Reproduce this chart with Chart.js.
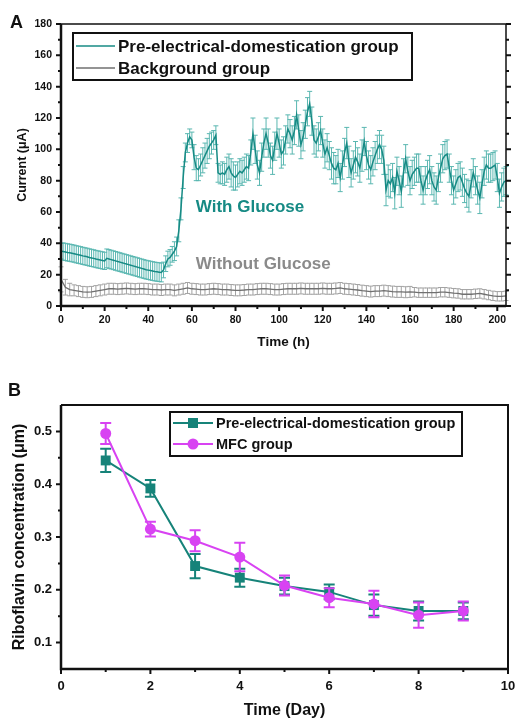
<!DOCTYPE html>
<html>
<head>
<meta charset="utf-8">
<script src="https://cdn.jsdelivr.net/npm/chart.js@4.4.0/dist/chart.umd.min.js"></script>
<style>
  body { margin: 0; background: #fff; width: 515px; height: 720px; overflow: hidden; position: relative; }
  .wrap { position: absolute; left: 0; width: 515px; height: 360px; }
  .tag { position: absolute; font: bold 18px 'Liberation Sans', Arial, sans-serif; color: #111; }
</style>
</head>
<body>
<div class="wrap" style="top:0"><canvas id="chartA" width="515" height="360"></canvas></div>
<div class="wrap" style="top:360px"><canvas id="chartB" width="515" height="360"></canvas></div>
<div class="tag" style="left:10px;top:12px">A</div>
<div class="tag" style="left:8px;top:380px">B</div>
<script>
// ---- Panel A: current over time ----
const tealHours = [
  0,1,2,3,4,5,6,7,8,9,10,11,12,13,14,15,16,17,18,19,20,
  21,22,23,24,25,26,27,28,29,30,31,32,33,34,35,36,37,38,39,40,
  41,42,43,44,45,46,47,48,49,50,51,52,53,54,55,56,57,58,59,60,
  61,62,63,64,65,66,67,68,69,70,71,72,73,74,75,76,77,78,79,80,
  81,82,83,84,85,86,87,88,89,90,91,92,93,94,95,96,97,98,99,100,
  101,102,103,104,105,106,107,108,109,110,111,112,113,114,115,116,117,118,119,120,
  121,122,123,124,125,126,127,128,129,130,131,132,133,134,135,136,137,138,139,140,
  141,142,143,144,145,146,147,148,149,150,151,152,153,154,155,156,157,158,159,160,
  161,162,163,164,165,166,167,168,169,170,171,172,173,174,175,176,177,178,179,180,
  181,182,183,184,185,186,187,188,189,190,191,192,193,194,195,196,197,198,199,200,
  201,202,203,204
];
const tealCurrent = [
  35,34.8,34.5,34.2,34,33.7,33.4,33,32.7,32.4,32,31.7,31.4,31,30.7,30.4,30,29.7,29.4,29.1,28.8,
  30.4,30,29.6,29.2,28.8,28.4,28,27.6,27.2,26.8,26.4,26,25.6,25.2,24.8,24.4,24,23.6,23.2,22.9,
  22.6,22.3,22,21.8,21.6,21.4,23,27,30,31,33,35,38,48,62,82,98,104,108,106,
  95,88,87,90,93,96,99,102,104,106,109,85,84,85,84,87,89,85,83,82,
  84,86,85,87,89,88,98,110,100,90,85,95,104,110,104,96,93,102,110,104,
  97,99,106,113,110,106,112,122,112,103,108,116,124,129,118,106,104,108,112,104,
  97,101,96,91,88,87,91,82,90,98,104,92,85,90,95,92,88,96,105,96,
  90,87,92,96,100,103,100,93,74,80,78,82,72,86,80,73,85,94,86,80,
  84,86,88,88,80,74,80,84,87,80,76,74,82,88,94,96,97,88,80,74,
  78,82,83,79,75,72,70,78,85,80,74,69,78,86,90,88,88,89,90,82,
  72,76,79,80
];
const tealErr = [
  5,5.5,5.5,5.5,5.5,5.5,5.5,5.5,5.5,5.5,5.5,5.5,5.5,5.5,5.5,5.5,5.5,5.5,5.5,5.5,5.5,
  6,6,6,6,6,6,6,6,6,6,6,6,6,6,6,6,6,6,6,6,
  6,6,6,6,6,6,5,5,5,5,5,6,6,7,7,7,6,6,5,5,
  8,8,7,7,8,8,8,8,7,6,6,6,6,7,7,8,8,9,9,8,
  8,8,8,8,8,8,8,10,9,9,8,9,9,10,9,8,9,9,10,9,
  9,9,9,9,9,9,9,9,10,9,9,9,9,8,9,9,9,9,9,9,
  9,9,9,10,10,9,9,9,9,9,10,10,9,9,10,9,9,10,9,9,
  9,9,9,9,9,9,9,9,10,10,9,9,10,9,9,10,9,9,9,9,
  9,9,9,9,9,9,9,9,9,9,9,9,9,9,9,9,9,9,9,9,
  9,9,9,9,9,9,10,9,9,9,9,10,9,9,9,9,9,9,9,9,
  9,9,9,9
];
const bgHours = [
  0,2,4,6,8,10,12,14,16,18,20,22,24,26,28,30,32,34,36,38,40,
  42,44,46,48,50,52,54,56,58,60,62,64,66,68,70,72,74,76,78,80,
  82,84,86,88,90,92,94,96,98,100,102,104,106,108,110,112,114,116,118,120,
  122,124,126,128,130,132,134,136,138,140,142,144,146,148,150,152,154,156,158,160,
  162,164,166,168,170,172,174,176,178,180,182,184,186,188,190,192,194,196,198,200,
  202,204
];
const bgCurrent = [
  17,12,10.5,10,9.5,9,8.8,9,9.5,10,10.5,11,11,10.8,11,11.2,11,10.8,11,11,10.8,
  10.5,10.5,10.2,10.5,10.5,10,10.5,11,11.5,11,10.8,10.5,10.5,10.8,11,10.8,10.5,10.5,10.2,10,
  10,10.2,10.5,10.5,10.8,11,11,10.8,10.5,10.5,10.8,11,11,11,11.2,11,11,11,11,11.2,
  11,11,11.2,11.5,11,10.8,10.5,10.2,9.8,9.5,9.2,9.5,9.5,9.8,9.5,9.2,9,9,8.8,9,
  8.8,8.5,8.5,8.5,8.5,8.5,8.8,8.8,8.5,8.2,8,7.5,7.5,7.5,7.8,8,7.5,7,6.5,6.2,
  6.2,6.5
];
const bgErr = [
  8,5,4,3.5,3.5,3.5,3.5,3.5,3.5,3.5,3.5,3.5,3.5,3.5,3.5,3.5,3.5,3.5,3.5,3.5,3.5,
  3.5,3.5,3.5,3.5,3.5,3.5,3.5,3.5,3.5,3.5,3.5,3.5,3.5,3.5,3.5,3.5,3.5,3.5,3.5,3.5,
  3.5,3.5,3.5,3.5,3.5,3.5,3.5,3.5,3.5,3.5,3.5,3.5,3.5,3.5,3.5,3.5,3.5,3.5,3.5,3.5,
  3.5,3.5,3.5,3.5,3.5,3.5,3.5,3.5,3.5,3.5,3.5,3.5,3.5,3.5,3.5,3.5,3.5,3.5,3.5,3.5,
  3,3,3,3,3,3,3,3,3,3,3,3,3,3,3,3,3,3,3,3,
  3,3
];
const xTicksA = [0, 20, 40, 60, 80, 100, 120, 140, 160, 180, 200];

// ---- Panel B: riboflavin ----
const days = [1, 2, 3, 4, 5, 6, 7, 8, 9];
const preGroup = [0.445, 0.392, 0.245, 0.223, 0.207, 0.196, 0.171, 0.160, 0.160];
const preErr = [0.022, 0.016, 0.023, 0.017, 0.016, 0.014, 0.020, 0.018, 0.016];
const mfcGroup = [0.496, 0.315, 0.293, 0.262, 0.208, 0.185, 0.173, 0.152, 0.160];
const mfcErr = [0.020, 0.014, 0.020, 0.027, 0.019, 0.018, 0.025, 0.024, 0.018];
const yTicksB = [0.1, 0.2, 0.3, 0.4, 0.5];

const FONT = "'Liberation Sans', Arial, sans-serif";
const INK = '#111';

const toPoints = (xs, ys) => xs.map((x, i) => ({ x: x, y: ys[i] }));

// vertical error bars with caps, drawn just before each dataset
const errorBars = {
  id: 'errorBars',
  beforeDatasetDraw(chart, args) {
    const ds = chart.data.datasets[args.index];
    if (!ds.errors) return;
    const y = chart.scales.y;
    const ctx = chart.ctx;
    ctx.save();
    ctx.strokeStyle = ds.errColor;
    ctx.lineWidth = ds.errWidth;
    ctx.beginPath();
    args.meta.data.forEach((pt, j) => {
      const v = ds.data[j].y, e = ds.errors[j];
      const t = y.getPixelForValue(v + e), b = y.getPixelForValue(v - e);
      ctx.moveTo(pt.x, t); ctx.lineTo(pt.x, b);
      ctx.moveTo(pt.x - ds.cap, t); ctx.lineTo(pt.x + ds.cap, t);
      ctx.moveTo(pt.x - ds.cap, b); ctx.lineTo(pt.x + ds.cap, b);
    });
    ctx.stroke();
    ctx.restore();
  }
};

// box frame + major/minor tick marks
const frame = {
  id: 'frame',
  afterDraw(chart, args, o) {
    const { ctx, chartArea: a, scales: { x, y } } = chart;
    const mids = vals => vals.slice(1).map((v, i) => (v + vals[i]) / 2);
    const xv = x.ticks.map(t => t.value), yv = y.ticks.map(t => t.value);
    ctx.save();
    ctx.strokeStyle = INK;
    ctx.lineWidth = o.thin;
    ctx.beginPath();
    ctx.moveTo(a.left, a.top); ctx.lineTo(a.right, a.top); ctx.lineTo(a.right, a.bottom);
    ctx.stroke();
    ctx.lineWidth = o.thick;
    ctx.beginPath();
    ctx.moveTo(a.left, a.top); ctx.lineTo(a.left, a.bottom); ctx.lineTo(a.right, a.bottom);
    ctx.stroke();
    ctx.lineWidth = 2;
    ctx.beginPath();
    const yMark = (v, len) => {
      const p = y.getPixelForValue(v);
      ctx.moveTo(a.left, p); ctx.lineTo(a.left - len, p);
      if (o.rightTicks) { ctx.moveTo(a.right, p); ctx.lineTo(a.right + len, p); }
    };
    const xMark = (v, len) => {
      const p = x.getPixelForValue(v);
      ctx.moveTo(p, a.bottom); ctx.lineTo(p, a.bottom + len);
    };
    yv.forEach(v => yMark(v, o.major));
    mids(yv).forEach(v => yMark(v, o.minor));
    xv.forEach(v => xMark(v, o.major));
    mids(xv).forEach(v => xMark(v, o.minor));
    ctx.stroke();
    ctx.restore();
  }
};

// legend box inside the plot
const boxLegend = {
  id: 'boxLegend',
  afterDraw(chart, args, o) {
    const ctx = chart.ctx;
    const a = chart.chartArea;
    const L = a.left + o.dx, T = a.top + o.dy;
    ctx.save();
    ctx.strokeStyle = INK;
    ctx.lineWidth = 2;
    ctx.strokeRect(L, T, o.w, o.h);
    ctx.font = 'bold ' + o.size + 'px ' + FONT;
    ctx.textBaseline = 'middle';
    ctx.textAlign = 'left';
    o.items.forEach((it, i) => {
      const cy = T + o.first + i * o.gap;
      ctx.strokeStyle = it.color;
      ctx.lineWidth = it.lineWidth;
      ctx.beginPath();
      ctx.moveTo(L + 3, cy); ctx.lineTo(L + 3 + o.sample, cy);
      ctx.stroke();
      if (it.marker === 'rect') {
        ctx.fillStyle = it.color;
        ctx.fillRect(L + 3 + o.sample / 2 - 5, cy - 5, 10, 10);
      } else if (it.marker === 'circle') {
        ctx.fillStyle = it.color;
        ctx.beginPath();
        ctx.arc(L + 3 + o.sample / 2, cy, 5.5, 0, Math.PI * 2);
        ctx.fill();
      }
      ctx.fillStyle = INK;
      ctx.fillText(it.text, L + 6 + o.sample, cy + 1);
    });
    ctx.restore();
  }
};

// text labels anchored to data coordinates
const notes = {
  id: 'notes',
  afterDatasetsDraw(chart, args, o) {
    const { ctx, scales: { x, y } } = chart;
    ctx.save();
    ctx.font = 'bold 17px ' + FONT;
    ctx.textBaseline = 'middle';
    ctx.textAlign = 'left';
    o.items.forEach(n => {
      ctx.fillStyle = n.color;
      ctx.fillText(n.text, x.getPixelForValue(n.x), y.getPixelForValue(n.y));
    });
    ctx.restore();
  }
};

const TEAL_A = '#178b85';
const TEAL_A_ERR = '#5ab7b1';
const GREY_A = '#707070';
const GREY_A_ERR = '#a3a3a3';

new Chart(document.getElementById('chartA'), {
  type: 'line',
  data: {
    datasets: [
      {
        label: 'Pre-electrical-domestication group',
        data: toPoints(tealHours, tealCurrent),
        errors: tealErr, errColor: TEAL_A_ERR, errWidth: 1, cap: 2.5,
        borderColor: TEAL_A, borderWidth: 1.5, pointRadius: 0, tension: 0
      },
      {
        label: 'Background group',
        data: toPoints(bgHours, bgCurrent),
        errors: bgErr, errColor: GREY_A_ERR, errWidth: 1, cap: 2.5,
        borderColor: GREY_A, borderWidth: 1.3, pointRadius: 0, tension: 0
      }
    ]
  },
  options: {
    responsive: false,
    animation: false,
    devicePixelRatio: 1,
    layout: { padding: { left: 0, right: 9, top: 24, bottom: 0 } },
    plugins: {
      legend: { display: false },
      tooltip: { enabled: false },
      frame: { thin: 1.5, thick: 2.5, major: 5, minor: 3, rightTicks: true },
      boxLegend: {
        dx: 12, dy: 9, w: 339, h: 47, size: 17, sample: 39, first: 13, gap: 22,
        items: [
          { text: 'Pre-electrical-domestication group', color: TEAL_A, lineWidth: 1.5 },
          { text: 'Background group', color: GREY_A, lineWidth: 1.5 }
        ]
      },
      notes: {
        items: [
          { text: 'With Glucose', x: 61.8, y: 63, color: '#168a84' },
          { text: 'Without Glucose', x: 61.8, y: 26.5, color: '#8a8a8a' }
        ]
      }
    },
    scales: {
      x: {
        type: 'linear', min: 0, max: 204,
        afterBuildTicks: s => { s.ticks = xTicksA.map(v => ({ value: v })); },
        afterFit: s => { s.height = 54; s.paddingLeft = 0; s.paddingRight = 0; },
        grid: { display: false, drawTicks: false },
        border: { display: false },
        ticks: { color: INK, padding: 8, font: { family: FONT, size: 10.5, weight: 'bold' } },
        title: { display: true, text: 'Time (h)', color: INK, padding: { top: 0, bottom: 10 }, font: { family: FONT, size: 13.5, weight: 'bold' } }
      },
      y: {
        min: 0, max: 180,
        afterFit: s => { s.width = 61; },
        grid: { display: false, drawTicks: false },
        border: { display: false },
        ticks: { stepSize: 20, color: INK, padding: 9, font: { family: FONT, size: 10.5, weight: 'bold' } },
        title: { display: true, text: 'Current (μA)', color: INK, padding: { top: 15, bottom: 0 }, font: { family: FONT, size: 12.5, weight: 'bold' } }
      }
    }
  },
  plugins: [errorBars, frame, boxLegend, notes]
});

const TEAL_B = '#168379';
const MAG_B = '#d843f2';

new Chart(document.getElementById('chartB'), {
  type: 'line',
  data: {
    datasets: [
      {
        label: 'Pre-electrical-domestication group',
        data: toPoints(days, preGroup),
        errors: preErr, errColor: TEAL_B, errWidth: 2, cap: 5.5,
        borderColor: TEAL_B, backgroundColor: TEAL_B, borderWidth: 2,
        pointStyle: 'rect', pointRadius: 7, pointBorderWidth: 0, order: 2
      },
      {
        label: 'MFC group',
        data: toPoints(days, mfcGroup),
        errors: mfcErr, errColor: MAG_B, errWidth: 2, cap: 5.5,
        borderColor: MAG_B, backgroundColor: MAG_B, borderWidth: 2,
        pointStyle: 'circle', pointRadius: 5.5, pointBorderWidth: 0, order: 1
      }
    ]
  },
  options: {
    responsive: false,
    animation: false,
    devicePixelRatio: 1,
    layout: { padding: { left: 0, right: 7, top: 45, bottom: 0 } },
    plugins: {
      legend: { display: false },
      tooltip: { enabled: false },
      frame: { thin: 2, thick: 2.5, major: 5, minor: 3, rightTicks: false },
      boxLegend: {
        dx: 109, dy: 7, w: 292, h: 44, size: 14.5, sample: 40, first: 11, gap: 21,
        items: [
          { text: 'Pre-electrical-domestication group', color: TEAL_B, lineWidth: 2, marker: 'rect' },
          { text: 'MFC group', color: MAG_B, lineWidth: 2, marker: 'circle' }
        ]
      },
      notes: { items: [] }
    },
    scales: {
      x: {
        type: 'linear', min: 0, max: 10,
        afterFit: s => { s.height = 51; s.paddingLeft = 0; s.paddingRight = 0; },
        grid: { display: false, drawTicks: false },
        border: { display: false },
        ticks: { stepSize: 2, color: INK, padding: 10, font: { family: FONT, size: 13, weight: 'bold' } },
        title: { display: true, text: 'Time (Day)', color: INK, padding: { top: 0, bottom: 0 }, font: { family: FONT, size: 16, weight: 'bold' } }
      },
      y: {
        min: 0.05, max: 0.55,
        afterBuildTicks: s => { s.ticks = yTicksB.map(v => ({ value: v })); },
        afterFit: s => { s.width = 61; },
        grid: { display: false, drawTicks: false },
        border: { display: false },
        ticks: { color: INK, padding: 9, callback: v => v.toFixed(1), font: { family: FONT, size: 13, weight: 'bold' } },
        title: { display: true, text: 'Riboflavin concentration (μm)', color: INK, padding: { top: 10, bottom: 0 }, font: { family: FONT, size: 16, weight: 'bold' } }
      }
    }
  },
  plugins: [errorBars, frame, boxLegend, notes]
});
</script>
</body>
</html>
